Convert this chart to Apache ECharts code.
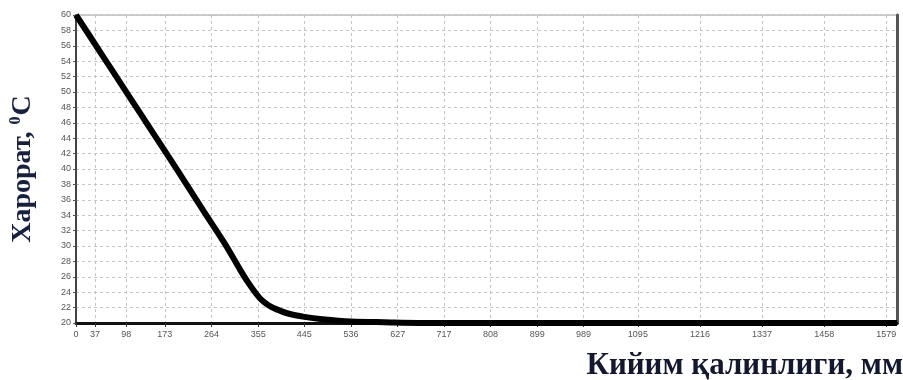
<!DOCTYPE html>
<html>
<head>
<meta charset="utf-8">
<script src="https://cdn.jsdelivr.net/npm/echarts@6/dist/echarts.min.js"></script>
<style>
  html, body { margin: 0; padding: 0; background: #fff; }
  #chart { width: 903px; height: 380px; }
</style>
</head>
<body>
<div id="chart"></div>
<script>
// толщина одежды, мм
var thickness = [0, 50, 100, 150, 200, 250, 290, 320, 335, 350, 360, 375, 390, 415, 445, 480, 536, 600, 700, 1600];
// температура, °C
var temperature = [60, 54.9, 49.8, 44.7, 39.6, 34.4, 30.3, 26.9, 25.3, 23.9, 23.1, 22.3, 21.8, 21.2, 20.8, 20.5, 20.2, 20.1, 20.0, 20.0];
// подписи оси X
var xTicks = [0, 37, 98, 173, 264, 355, 445, 536, 627, 717, 808, 899, 989, 1095, 1216, 1337, 1458, 1579];

var points = [];
for (var i = 0; i < thickness.length; i++) {
    points.push([thickness[i], temperature[i]]);
}

var myChart = echarts.init(document.getElementById('chart'));
var option = {
    animation: false,
    grid: {
        left: 76,
        right: 6,
        top: 15,
        bottom: 57,
        outerBoundsMode: 'none',
        show: true,
        borderColor: '#999',
        borderWidth: 1
    },
    xAxis: {
        type: 'value',
        min: 0,
        max: 1600,
        axisLine: { lineStyle: { color: '#111', width: 3 } },
        axisTick: { customValues: xTicks, length: 4, lineStyle: { color: '#333' } },
        axisLabel: {
            customValues: xTicks,
            formatter: function(v) { return String(v); },
            color: '#555',
            fontSize: 9,
            fontFamily: 'Arial',
            margin: 7
        },
        splitLine: { show: true, lineStyle: { color: '#c4c4c4', type: [3, 3] } },
        name: 'Кийим қалинлиги, мм',
        nameLocation: 'end',
        nameGap: 0,
        nameTextStyle: {
            fontFamily: 'Liberation Serif',
            fontWeight: 'bold',
            fontSize: 31,
            color: '#14182e',
            align: 'right',
            verticalAlign: 'top',
            padding: [27, -6, 0, 0]
        }
    },
    yAxis: [{
        type: 'value',
        min: 20,
        max: 60,
        interval: 2,
        axisLine: { show: true, lineStyle: { color: '#444', width: 2 } },
        axisTick: { show: true, length: 3, lineStyle: { color: '#555' } },
        axisLabel: { color: '#555', fontSize: 9, fontFamily: 'Arial', margin: 5 },
        splitLine: { show: true, lineStyle: { color: '#c4c4c4', type: [3, 3] } },
        name: '{a|Харорат, }{s|0}{a|С}',
        nameLocation: 'middle',
        nameRotate: 90,
        nameGap: 38,
        nameTextStyle: {
            rich: {
                a: { fontFamily: 'Liberation Serif', fontWeight: 'bold', fontSize: 28, color: '#16203f' },
                s: { fontFamily: 'Liberation Serif', fontWeight: 'bold', fontSize: 16, color: '#16203f', padding: [0, 1, 14, 0] }
            }
        }
    }, {
        type: 'value',
        min: 20,
        max: 60,
        position: 'right',
        axisLine: { show: true, lineStyle: { color: '#555', width: 3 } },
        axisTick: { show: false },
        axisLabel: { show: false },
        splitLine: { show: false }
    }],
    series: [{
        type: 'line',
        data: points,
        smooth: 0.3,
        symbol: 'none',
        lineStyle: { color: '#000', width: 6 }
    }]
};
myChart.setOption(option);
</script>
</body>
</html>
